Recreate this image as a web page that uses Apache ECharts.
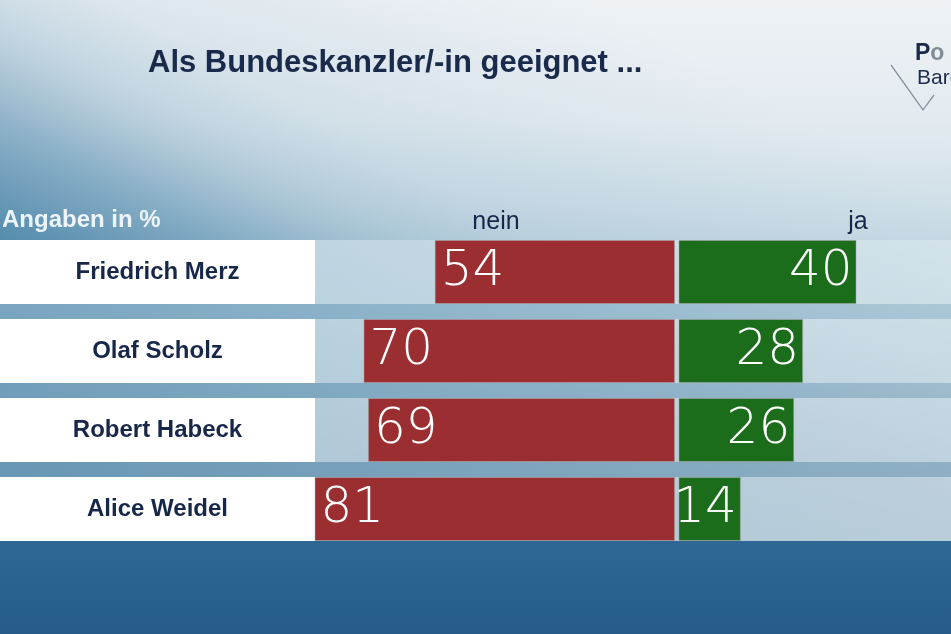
<!DOCTYPE html>
<html><head><meta charset="utf-8">
<script src="https://cdn.jsdelivr.net/npm/echarts@6/dist/echarts.min.js"></script>
<style>html,body{margin:0;padding:0;overflow:hidden;background:#2c6392}#c{width:951px;height:634px}</style>
</head><body><div id="c"></div>
<script>
// ---- data ----
const categories = ['Friedrich Merz', 'Olaf Scholz', 'Robert Habeck', 'Alice Weidel'];
const neinValues = [54, 70, 69, 81];
const jaValues = [40, 28, 26, 14];
const columnLabels = ['nein', 'ja'];
const titleText = 'Als Bundeskanzler/-in geeignet ...';
const unitNote = 'Angaben in %';

const chart = echarts.init(document.getElementById('c'), null, { renderer: 'canvas' });
const SANS = '"Liberation Sans", Arial, sans-serif';
const NUM = '"DejaVu Sans", sans-serif';
const NAVY = '#17274a';
const gridTop = 232.5, gridH = 316;

const background = [
  { type: 'rect', z: -20, shape: { x: 0, y: 0, width: 951, height: 240 },
    style: { fill: { type: 'linear', x: 0, y: 0, x2: 0, y2: 1,
      colorStops: [{ offset: 0, color: '#eef2f5' }, { offset: 0.5, color: '#e3ebf0' }, { offset: 0.85, color: '#d0dfe8' }, { offset: 1, color: '#c6d9e3' }] } } },
  { type: 'rect', z: -19, shape: { x: 0, y: 0, width: 951, height: 240 },
    style: { fill: { type: 'linear', x: 0, y: 1, x2: 0.26, y2: -0.83,
      colorStops: [
        { offset: 0, color: 'rgba(38,108,152,0.70)' },
        { offset: 0.072, color: 'rgba(38,108,152,0.62)' },
        { offset: 0.214, color: 'rgba(38,108,152,0.43)' },
        { offset: 0.25, color: 'rgba(38,108,152,0.37)' },
        { offset: 0.34, color: 'rgba(38,108,152,0.23)' },
        { offset: 0.4, color: 'rgba(38,108,152,0.17)' },
        { offset: 0.52, color: 'rgba(38,108,152,0.09)' },
        { offset: 0.8, color: 'rgba(38,108,152,0.03)' },
        { offset: 1, color: 'rgba(38,108,152,0)' }] } } },
  { type: 'rect', z: -20, shape: { x: 0, y: 240, width: 951, height: 301 },
    style: { fill: { type: 'linear', x: 0, y: 0, x2: 0, y2: 1,
      colorStops: [{ offset: 0, color: '#b4cedc' }, { offset: 0.25, color: '#a9c6d6' }, { offset: 0.75, color: '#8fb0c4' }, { offset: 1, color: '#86a9be' }] } } },
  { type: 'rect', z: -19, shape: { x: 0, y: 240, width: 951, height: 301 },
    style: { fill: { type: 'linear', x: 0, y: 0, x2: 1, y2: 0,
      colorStops: [{ offset: 0, color: 'rgba(40,110,155,0.38)' }, { offset: 0.4, color: 'rgba(40,110,155,0.22)' }, { offset: 1, color: 'rgba(40,110,155,0)' }] } } },
  { type: 'rect', z: -20, shape: { x: 0, y: 541, width: 951, height: 93 },
    style: { fill: { type: 'linear', x: 0, y: 0, x2: 0, y2: 1,
      colorStops: [{ offset: 0, color: '#2e6794' }, { offset: 1, color: '#275b8a' }] } } }
];

const texts = [
  { type: 'text', z: 10, x: 148, y: 63, style: { text: titleText, fill: '#1a2a4b', fontFamily: SANS, fontSize: 31, fontWeight: 'bold', textAlign: 'left', textVerticalAlign: 'middle' } },
  { type: 'text', z: 10, x: 2, y: 220, style: { text: unitNote, fill: '#edf4f8', fontFamily: SANS, fontSize: 24, fontWeight: 'bold', textAlign: 'left', textVerticalAlign: 'middle' } },
  { type: 'text', z: 10, x: 496, y: 222, style: { text: columnLabels[0], fill: NAVY, fontFamily: SANS, fontSize: 25, textAlign: 'center', textVerticalAlign: 'middle' } },
  { type: 'text', z: 10, x: 858, y: 222, style: { text: columnLabels[1], fill: NAVY, fontFamily: SANS, fontSize: 25, textAlign: 'center', textVerticalAlign: 'middle' } },
  // logo (partially cut at right edge)
  { type: 'polyline', z: 10, shape: { points: [[891, 65], [923, 110], [934, 95]] }, style: { stroke: '#8794a0', lineWidth: 1.3, fill: null } },
  { type: 'text', z: 11, x: 915, y: 65, style: { text: '{p|P}{o|o}', textAlign: 'left', textVerticalAlign: 'bottom',
      rich: { p: { fontFamily: SANS, fontSize: 23, fontWeight: 'bold', fill: '#1a2a4b' }, o: { fontFamily: SANS, fontSize: 23, fontWeight: 'bold', fill: '#7f8b95' } } } },
  { type: 'text', z: 11, x: 917, y: 89, style: { text: 'Barometer', fill: '#1a2a4b', fontFamily: SANS, fontSize: 21, textAlign: 'left', textVerticalAlign: 'bottom' } }
];

const valueLabel = {
  show: true, color: '#ffffff', fontFamily: NUM, fontSize: 50, fontWeight: 200, distance: 6
};

const option = {
  animation: false,
  graphic: background.concat(texts),
  grid: [
    { left: 315, right: 0, top: gridTop, height: gridH, outerBoundsMode: 'none', containLabel: false },
    { left: 274.5, width: 400.5, top: gridTop, height: gridH, outerBoundsMode: 'none' },
    { left: 678.5, width: 267, top: gridTop, height: gridH, outerBoundsMode: 'none' }
  ],
  xAxis: [
    { gridIndex: 0, type: 'value', min: 0, max: 1, show: false },
    { gridIndex: 1, type: 'value', min: 0, max: 90, inverse: true, show: false },
    { gridIndex: 2, type: 'value', min: 0, max: 60, show: false }
  ],
  yAxis: [
    { gridIndex: 0, type: 'category', data: categories, inverse: true,
      axisLine: { show: false }, axisTick: { show: false }, splitLine: { show: false },
      axisLabel: { margin: 0, verticalAlign: 'middle',
        formatter: v => '{box|' + v + '}',
        rich: { box: { width: 315, height: 64, align: 'center', verticalAlign: 'middle', backgroundColor: '#ffffff',
          fontFamily: SANS, fontSize: 24, fontWeight: 'bold', color: NAVY } } } },
    { gridIndex: 1, type: 'category', data: categories, inverse: true, show: false },
    { gridIndex: 2, type: 'category', data: categories, inverse: true, show: false }
  ],
  series: [
    { type: 'bar', xAxisIndex: 0, yAxisIndex: 0, silent: true, barWidth: 64,
      data: categories.map(() => 0), itemStyle: { color: 'rgba(0,0,0,0)' },
      showBackground: true, backgroundStyle: { color: 'rgba(255,255,255,0.42)' } },
    { name: columnLabels[0], type: 'bar', xAxisIndex: 1, yAxisIndex: 1, barWidth: 64, data: neinValues,
      itemStyle: { color: '#9b2e31', borderColor: 'rgba(160,160,160,0.5)', borderWidth: 1 },
      label: Object.assign({ position: 'insideLeft' }, valueLabel) },
    { name: columnLabels[1], type: 'bar', xAxisIndex: 2, yAxisIndex: 2, barWidth: 64, data: jaValues,
      itemStyle: { color: '#1c6d1b', borderColor: 'rgba(160,160,160,0.5)', borderWidth: 1 },
      label: Object.assign({ position: 'insideRight' }, valueLabel, { distance: 4 }) }
  ]
};
chart.setOption(option);
</script>
</body></html>
